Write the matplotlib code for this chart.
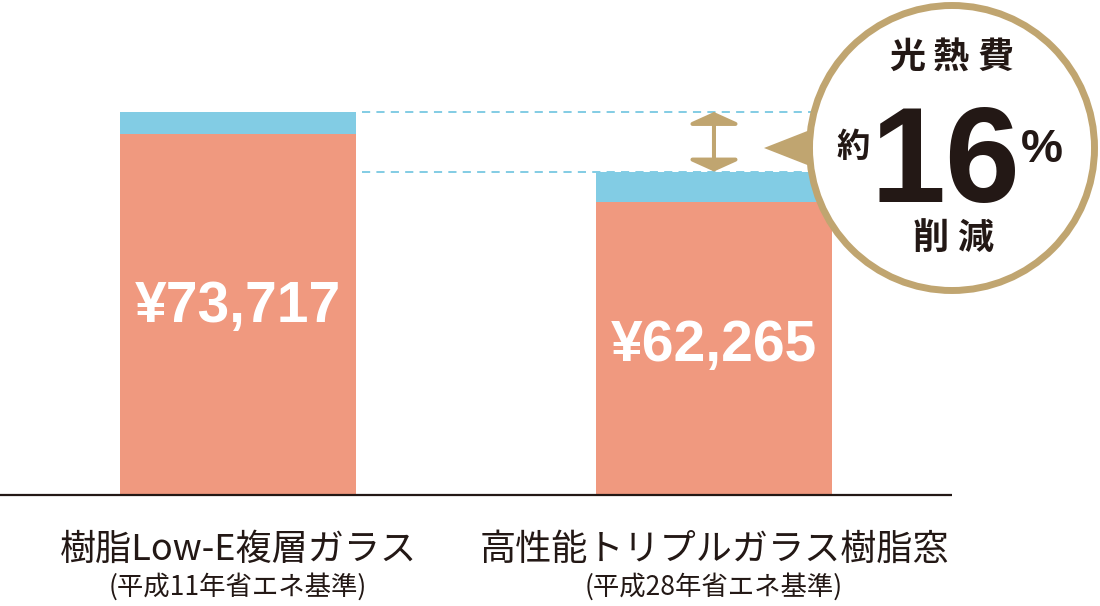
import matplotlib
matplotlib.use("Agg")
import matplotlib.pyplot as plt
from matplotlib.patches import Circle, Polygon, FancyArrowPatch

# data
categories = ["樹脂Low-E複層ガラス", "高性能トリプルガラス樹脂窓"]
subtitles = ["(平成11年省エネ基準)", "(平成28年省エネ基準)"]
totals = [73717, 62265]          # 光熱費 (円)
upper_part = [4200, 5900]        # blue segment on top
lower_part = [t - u for t, u in zip(totals, upper_part)]
value_labels = ["¥73,717", "¥62,265"]
reduction_pct = "16"

salmon = "#F0997F"
blue = "#82CCE4"
gold = "#C0A570"
ink = "#231815"

plt.rcParams["font.family"] = ["Noto Sans CJK JP", "DejaVu Sans"]

fig = plt.figure(figsize=(11, 6.06), dpi=100)
ax = fig.add_axes([0, 0, 1, 1])
ax.set_xlim(-0.5, 1.811)
ax.set_ylim(-21365, 95275)
ax.axis("off")

x = [0, 1]
ax.bar(x, lower_part, width=0.496, color=salmon, zorder=2)
ax.bar(x, upper_part, bottom=lower_part, width=0.496, color=blue, zorder=2)
ax.hlines(0, -0.5, 1.5, color=ink, lw=1.6, zorder=3)

# dashed guides at both totals
ax.hlines(totals, 0.26, 1.6, colors=blue, lw=1.4,
          linestyles=(0, (4.2, 3.2)), zorder=3)

# double arrow showing the difference
arr = FancyArrowPatch((1, totals[1]), (1, totals[0]),
                      arrowstyle="<|-|>,head_length=7.0,head_width=15.5",
                      mutation_scale=1, color=gold, lw=2.9,
                      shrinkA=0, shrinkB=0, zorder=4)
ax.add_patch(arr)

label_frac = [0.49, 0.46]
for xi, t, lab, f in zip(x, totals, value_labels, label_frac):
    ax.text(xi, t * f, lab, ha="center", va="center", color="white",
            fontsize=41, fontweight="bold", family="Liberation Sans", zorder=5)

# overlay in pixel coordinates for the badge and the category labels
ov = fig.add_axes([0, 0, 1, 1], zorder=5)
ov.set_xlim(0, 1100)
ov.set_ylim(606, 0)
ov.axis("off")

ov.add_patch(Polygon([(764, 148), (815, 128), (815, 168)], closed=True,
                     fc=gold, ec="none"))
ov.add_patch(Circle((952, 148), 142.5, fc="white", ec=gold, lw=5))

for cx, ch in zip([907, 951, 996], "光熱費"):
    ov.text(cx, 57, ch, ha="center", va="center", color=ink,
            fontsize=26, fontweight="bold")
for cx, ch in zip([931, 975], "削減"):
    ov.text(cx, 238, ch, ha="center", va="center", color=ink,
            fontsize=26, fontweight="bold")
ov.text(853, 148, "約", ha="center", va="center", color=ink,
        fontsize=24, fontweight="bold")
ov.text(945, 202, reduction_pct, ha="center", va="baseline", color=ink,
        fontsize=97, fontweight="bold", family="Liberation Sans")
ov.text(1042, 150, "%", ha="center", va="center", color=ink,
        fontsize=34, fontweight="bold", family="Liberation Sans")

for cx, cat, sub in zip([238, 714], categories, subtitles):
    ov.text(cx, 550, cat, ha="center", va="center", color=ink, fontsize=26)
    ov.text(cx, 587, sub, ha="center", va="center", color=ink, fontsize=19)

fig.savefig("out.png", dpi=100)
